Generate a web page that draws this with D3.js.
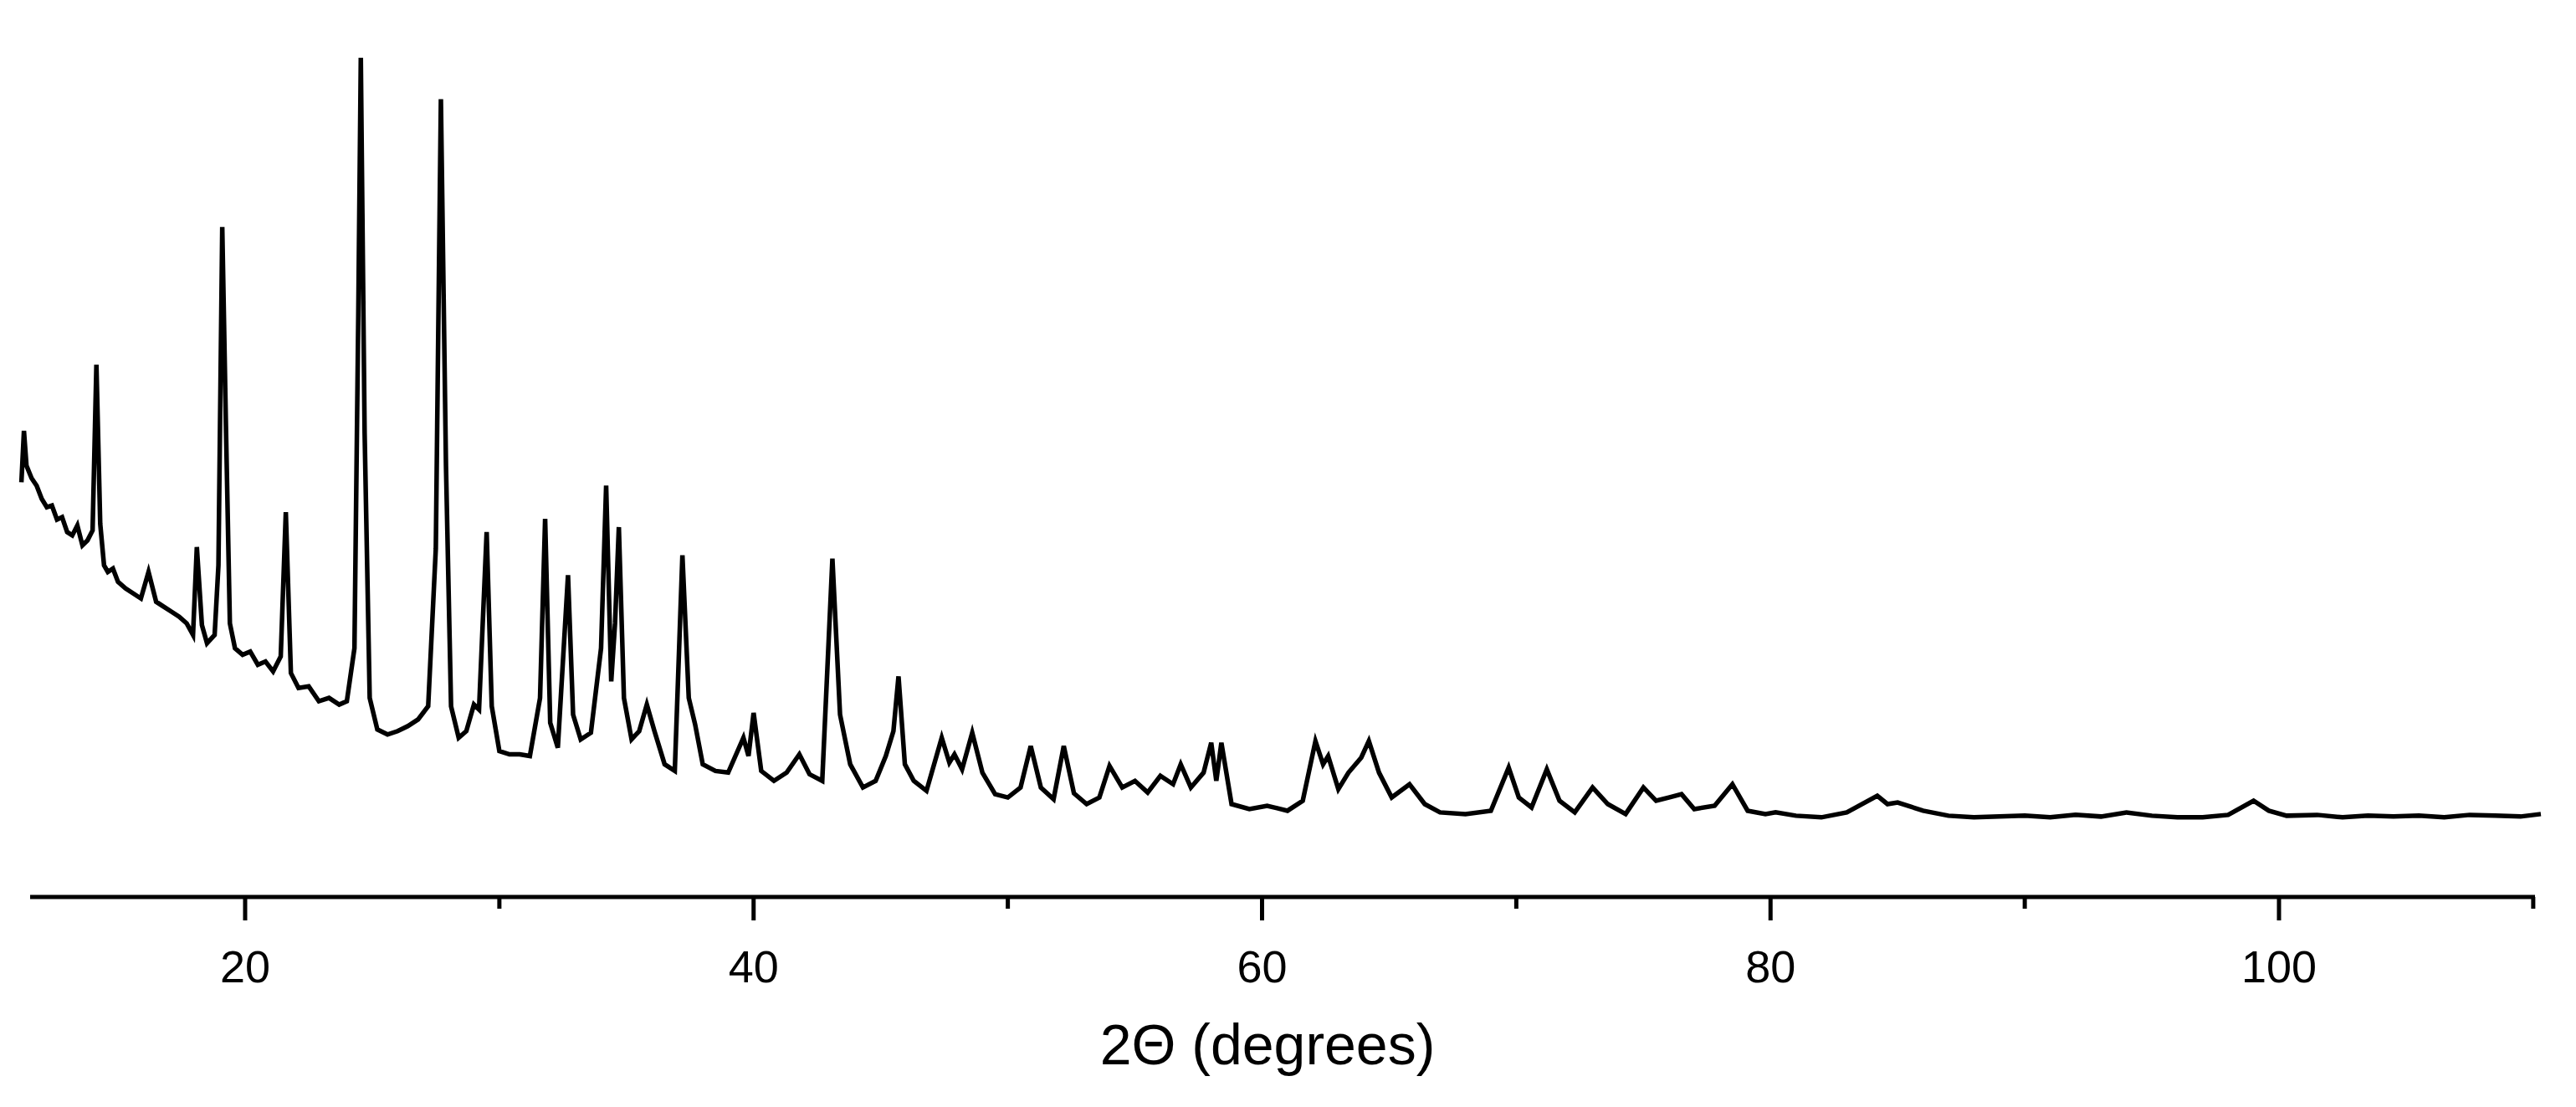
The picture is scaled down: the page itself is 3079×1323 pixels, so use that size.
<!DOCTYPE html>
<html><head><meta charset="utf-8">
<script src="https://cdn.jsdelivr.net/npm/d3@7"></script>
<style>body{margin:0;background:#fff}svg{display:block}</style>
</head><body>
<script>
const twoTheta = [11.2,11.3,11.4,11.6,11.8,12.0,12.2,12.4,12.6,12.8,13.0,13.2,13.4,13.6,13.8,14.0,14.15,14.3,14.45,14.6,14.8,15.0,15.3,15.6,15.9,16.2,16.5,16.8,17.1,17.4,17.7,17.95,18.1,18.3,18.5,18.8,18.95,19.1,19.25,19.4,19.6,19.9,20.2,20.5,20.8,21.1,21.4,21.6,21.8,22.1,22.5,22.9,23.3,23.7,24.0,24.3,24.45,24.55,24.7,24.9,25.2,25.6,26.0,26.4,26.8,27.2,27.5,27.7,27.9,28.1,28.4,28.7,29.0,29.2,29.5,29.7,30.0,30.4,30.8,31.2,31.6,31.8,32.0,32.3,32.55,32.7,32.9,33.2,33.6,34.0,34.2,34.4,34.55,34.7,34.9,35.2,35.5,35.8,36.1,36.5,36.9,37.2,37.45,37.7,38.0,38.5,39.0,39.6,39.8,40.0,40.3,40.8,41.3,41.8,42.2,42.7,
43.1,43.4,43.8,44.3,44.8,45.2,45.5,45.7,45.95,46.3,46.8,47.4,47.7,47.9,48.2,48.6,49.0,49.5,50.0,50.5,50.9,51.3,51.8,52.2,52.6,53.1,53.6,54.0,54.5,55.0,55.5,56.0,56.5,56.8,57.2,57.7,58.0,58.2,58.4,58.8,59.5,60.2,61.0,61.6,62.1,62.4,62.6,63.0,63.4,63.9,64.2,64.6,65.1,65.8,66.4,67.0,68.0,69.0,69.7,70.1,70.6,71.2,71.7,72.3,73.0,73.6,74.3,75.0,75.5,76.0,76.5,77.0,77.8,78.5,79.1,79.8,80.2,81.0,82.0,83.0,84.2,84.6,85.0,86.0,
87.0,88.0,89.0,90.0,91.0,92.0,93.0,94.0,95.0,96.0,97.0,98.0,99.0,99.6,100.3,101.5,102.5,103.5,104.5,105.5,106.5,107.5,108.5,109.5,110.3];
const intensity = [500,562,520,505,496,480,470,472,455,458,440,436,448,424,430,442,642,450,400,392,396,380,372,366,360,392,356,350,344,338,330,316,422,328,306,316,400,808,560,330,300,292,296,280,284,272,290,464,270,252,254,236,240,232,236,300,700,1012,560,240,202,196,200,206,214,230,420,962,520,230,192,200,232,226,440,230,176,172,172,170,240,456,210,180,310,388,220,190,198,300,496,260,330,446,240,190,200,232,200,160,152,412,240,208,160,152,150,192,170,222,152,140,150,172,148,140,
408,220,160,132,140,170,200,266,160,140,128,192,162,172,154,198,150,124,120,132,182,132,118,182,125,112,120,158,132,140,126,146,136,160,132,150,186,140,186,112,106,110,104,116,188,160,170,130,150,168,188,150,120,136,112,102,100,104,156,120,108,154,116,102,132,112,100,132,116,120,124,106,110,136,104,100,102,98,96,102,122,112,114,104,
98,96,97,98,96,99,97,102,98,96,96,99,116,104,98,99,96,98,97,98,96,99,98,97,100];
const xTicks = [20,40,60,80,100];
const minorTicks = [30,50,70,90,110];

const W=3079,H=1323;
const svg=d3.select("body").append("svg").attr("width",W).attr("height",H);
const axisY=1072;
const x=d3.scaleLinear().domain([20,100]).range([293,2724]);
const y=d3.scaleLinear().domain([0,1012]).range([axisY,69]);
const n=Math.min(twoTheta.length,intensity.length);
const pts=twoTheta.slice(0,n).map((t,i)=>[t,intensity[i]]);
svg.append("path").datum(pts).attr("fill","none").attr("stroke","#000").attr("stroke-width",5.5)
  .attr("d",d3.line().x(d=>x(d[0])).y(d=>y(d[1])));
svg.append("line").attr("x1",36).attr("x2",3030).attr("y1",axisY).attr("y2",axisY).attr("stroke","#000").attr("stroke-width",5);
svg.selectAll(".mj").data(xTicks).enter().append("line").attr("x1",d=>x(d)).attr("x2",d=>x(d))
  .attr("y1",axisY).attr("y2",axisY+28).attr("stroke","#000").attr("stroke-width",5);
svg.selectAll(".mn").data(minorTicks).enter().append("line").attr("x1",d=>x(d)).attr("x2",d=>x(d))
  .attr("y1",axisY).attr("y2",axisY+14).attr("stroke","#000").attr("stroke-width",5);
svg.selectAll(".tl").data(xTicks).enter().append("text").attr("x",d=>x(d)).attr("y",axisY+102)
  .attr("text-anchor","middle").attr("font-family","Liberation Sans, Arial, sans-serif").attr("font-size",54).text(d=>d);
svg.append("text").attr("x",1515).attr("y",1272).attr("text-anchor","middle")
  .attr("font-family","Liberation Sans, Arial, sans-serif").attr("font-size",68).text("2Θ (degrees)");
</script>
</body></html>
